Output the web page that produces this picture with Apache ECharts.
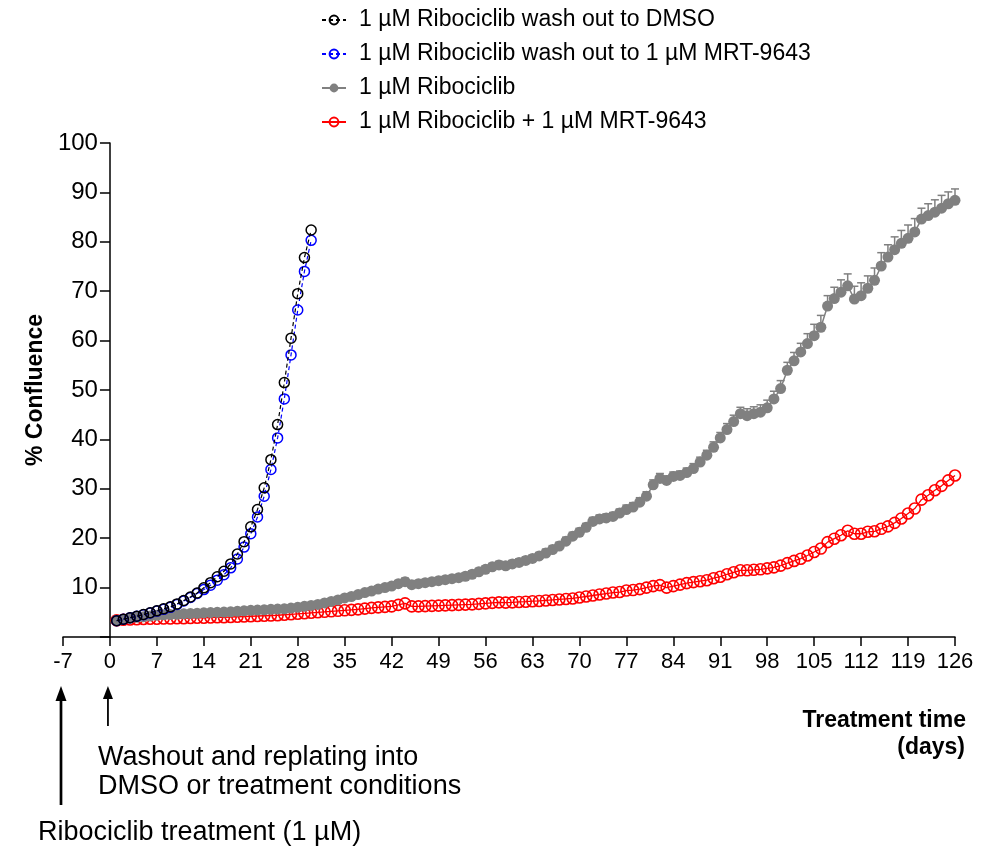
<!DOCTYPE html>
<html>
<head>
<meta charset="utf-8">
<title>Confluence</title>
<script src="https://cdn.jsdelivr.net/npm/echarts@6/dist/echarts.min.js"></script>
<style>
  html, body { margin: 0; padding: 0; background: #fff; }
  #chart { width: 999px; height: 848px; }
</style>
</head>
<body>
<div id="chart"></div>
<script>
// 数据：每天一个点，从第 1 天开始
const firstDay = 1
const xTicks = { min: -7, max: 126, step: 7 }
const yTicks = { min: 0, max: 100, step: 10 }

const seriesNames = [
  '1 µM Ribociclib wash out to DMSO',
  '1 µM Ribociclib wash out to 1 µM MRT-9643',
  '1 µM Ribociclib',
  '1 µM Ribociclib + 1 µM MRT-9643'
]

// wash out to DMSO (day 1-30)
const washDmso = [
  3.3, 3.6, 3.9, 4.2, 4.55, 4.9, 5.3, 5.7, 6.1, 6.7,
  7.4, 8.1, 8.9, 9.95, 11.0, 12.2, 13.3, 14.8, 16.8, 19.3,
  22.3, 25.8, 30.2, 35.9, 43.0, 51.5, 60.5, 69.5, 76.8, 82.4
]

// wash out to MRT-9643 (day 1-30)
const washMrt = [
  3.3, 3.6, 3.9, 4.2, 4.5, 4.85, 5.25, 5.6, 6.0, 6.6,
  7.3, 8.0, 8.8, 9.6, 10.5, 11.5, 12.6, 14.0, 15.8, 18.2,
  20.9, 24.3, 28.5, 33.9, 40.3, 48.2, 57.1, 66.2, 74.0, 80.3
]

// Ribociclib (day 1-126)
const ribo = [
  3.4, 3.6, 3.8, 4.0, 4.1, 4.25, 4.4, 4.5, 4.55, 4.6,
  4.7, 4.75, 4.8, 4.9, 4.95, 5.0, 5.05, 5.1, 5.2, 5.3,
  5.4, 5.45, 5.5, 5.6, 5.65, 5.7, 5.85, 6.0, 6.2, 6.4,
  6.6, 6.9, 7.2, 7.5, 7.9, 8.2, 8.6, 9.0, 9.3, 9.7,
  10.0, 10.3, 10.8, 11.2, 10.6, 10.8, 11.0, 11.2, 11.4, 11.6,
  11.8, 12.0, 12.3, 12.7, 13.2, 13.7, 14.2, 14.6, 14.4, 14.8,
  15.1, 15.5, 15.9, 16.4, 17.0, 17.7, 18.4, 19.4, 20.4, 21.2,
  22.2, 23.4, 23.9, 24.1, 24.4, 25.1, 25.8, 26.3, 27.3, 28.5,
  30.8, 32.1, 31.7, 32.5, 32.7, 33.3, 34.1, 35.4, 36.8, 38.4,
  40.3, 42.0, 43.6, 45.2, 44.8, 45.2, 45.5, 46.4, 48.2, 50.3,
  54.0, 55.9, 57.7, 59.4, 61.0, 62.7, 67.0, 68.5, 69.8, 71.1,
  68.4, 69.1, 70.6, 72.2, 75.1, 76.9, 78.4, 79.7, 80.7, 82.0,
  84.6, 85.3, 86.0, 86.8, 87.7, 88.4
]

// Ribociclib 误差线 (只画上方)
const riboErr = [
  0.2, 0.2, 0.2, 0.2, 0.3, 0.3, 0.3, 0.3, 0.3, 0.3,
  0.3, 0.3, 0.3, 0.3, 0.3, 0.3, 0.3, 0.3, 0.4, 0.4,
  0.4, 0.4, 0.4, 0.4, 0.4, 0.4, 0.4, 0.4, 0.5, 0.5,
  0.5, 0.5, 0.5, 0.5, 0.5, 0.5, 0.5, 0.5, 0.6, 0.6,
  0.6, 0.6, 0.6, 0.7, 0.6, 0.6, 0.6, 0.6, 0.6, 0.6,
  0.6, 0.6, 0.6, 0.7, 0.7, 0.7, 0.7, 0.7, 0.7, 0.7,
  0.7, 0.7, 0.7, 0.7, 0.8, 0.8, 0.8, 0.8, 0.8, 0.8,
  0.8, 0.8, 0.8, 0.8, 0.8, 0.8, 0.9, 0.9, 0.9, 0.9,
  1.0, 1.0, 0.9, 0.9, 0.9, 0.9, 1.0, 1.0, 1.0, 1.1,
  1.1, 1.2, 1.3, 1.3, 1.4, 1.4, 1.5, 1.55, 1.55, 1.6,
  1.6, 1.7, 1.75, 2.0, 2.3, 2.4, 2.1, 2.3, 2.5, 2.4,
  2.6, 2.6, 2.5, 2.5, 2.7, 2.5, 2.6, 2.6, 2.7, 2.7,
  2.2, 2.4, 2.5, 2.6, 2.4, 2.3
]

// Ribociclib + MRT-9643 (day 1-126)
const riboMrt = [
  3.4, 3.5, 3.55, 3.6, 3.65, 3.7, 3.7, 3.75, 3.75, 3.8,
  3.8, 3.85, 3.9, 3.9, 3.95, 4.0, 4.0, 4.05, 4.1, 4.15,
  4.2, 4.25, 4.3, 4.35, 4.4, 4.5, 4.6, 4.7, 4.8, 4.9,
  5.0, 5.1, 5.2, 5.3, 5.4, 5.5, 5.6, 5.75, 5.9, 6.0,
  6.1, 6.2, 6.5, 6.8, 6.2, 6.2, 6.25, 6.3, 6.35, 6.4,
  6.45, 6.5, 6.55, 6.6, 6.7, 6.8, 6.9, 7.0, 6.95, 7.0,
  7.1, 7.15, 7.25, 7.3, 7.4, 7.5, 7.6, 7.7, 7.8, 8.0,
  8.2, 8.4, 8.6, 8.8, 9.0, 9.1, 9.4, 9.5, 9.7, 10.0,
  10.3, 10.5, 10.0, 10.3, 10.6, 10.9, 11.1, 11.3, 11.5, 11.9,
  12.2, 12.7, 13.1, 13.5, 13.5, 13.6, 13.7, 13.9, 14.1, 14.45,
  14.95, 15.4, 15.85, 16.5, 17.2, 17.9, 19.2, 19.9, 20.6, 21.5,
  20.9, 20.9, 21.3, 21.4, 21.9, 22.4, 23.1, 24.0, 25.0, 26.0,
  27.8, 28.7, 29.7, 30.6, 31.7, 32.7
]

const font = 'Liberation Sans, Arial, Helvetica, sans-serif'
const gray = '#808080'

const gridLeft = 63
const gridRight = 44
// y 轴画在 x = 0 处：从网格左边往里挪 7 天的宽度
const yAxisShift = (999 - gridLeft - gridRight) / (xTicks.max - xTicks.min) * (0 - xTicks.min)

function toPoints(vals) {
  return vals.map((v, i) => [firstDay + i, v])
}

const chart = echarts.init(document.getElementById('chart'))

const option = {
  backgroundColor: '#fff',
  animation: false,
  textStyle: { fontFamily: font, color: '#000' },
  grid: {
    left: gridLeft,
    right: gridRight,
    top: 143,
    bottom: 211,
    containLabel: false,
    outerBoundsMode: 'none'
  },
  legend: {
    data: seriesNames,
    orient: 'vertical',
    left: 321,
    top: 8,
    padding: 0,
    itemGap: 10,
    itemWidth: 24,
    itemHeight: 11,
    textStyle: {
      fontFamily: font,
      fontSize: 23,
      lineHeight: 24,
      color: '#000',
      padding: [0, 0, 0, 8]
    }
  },
  xAxis: {
    type: 'value',
    min: xTicks.min,
    max: xTicks.max,
    interval: xTicks.step,
    splitLine: { show: false },
    axisLine: { onZero: false, lineStyle: { color: '#000', width: 1.5 } },
    axisTick: { length: 9, lineStyle: { color: '#000', width: 1.5 } },
    axisLabel: { fontSize: 22, color: '#000', margin: 14, fontFamily: font }
  },
  yAxis: {
    type: 'value',
    min: yTicks.min,
    max: yTicks.max,
    interval: yTicks.step,
    offset: -yAxisShift,
    name: '% Confluence',
    nameLocation: 'middle',
    nameGap: 63,
    nameTextStyle: { fontSize: 23, fontWeight: 'bold', color: '#000', fontFamily: font },
    splitLine: { show: false },
    axisLine: { show: true, onZero: false, lineStyle: { color: '#000', width: 1.5 } },
    axisTick: { length: 10, lineStyle: { color: '#000', width: 1.5 } },
    axisLabel: {
      fontSize: 24,
      color: '#000',
      margin: 12,
      fontFamily: font,
      formatter: function(v) {
        return v === 0 ? '' : String(v)
      }
    }
  },
  series: [
    {
      name: seriesNames[3],
      type: 'line',
      data: toPoints(riboMrt),
      symbol: 'circle',
      symbolSize: 11,
      lineStyle: { color: '#ff0000', width: 1.3 },
      itemStyle: { color: 'rgba(255,255,255,0)', borderColor: '#ff0000', borderWidth: 1.6 },
      z: 2
    },
    {
      // 误差线
      name: 'riboErr',
      type: 'custom',
      data: riboErr.map((e, i) => [firstDay + i, ribo[i], e]),
      encode: { x: 0, y: 1 },
      renderItem: function(params, api) {
        const x = api.value(0)
        const y = api.value(1)
        const e = api.value(2)
        const p0 = api.coord([x, y])
        const p1 = api.coord([x, y + e])
        const style = { stroke: gray, lineWidth: 1.5 }
        return {
          type: 'group',
          children: [
            { type: 'line', shape: { x1: p0[0], y1: p0[1], x2: p1[0], y2: p1[1] }, style: style },
            { type: 'line', shape: { x1: p1[0] - 4, y1: p1[1], x2: p1[0] + 4, y2: p1[1] }, style: style }
          ]
        }
      },
      z: 3
    },
    {
      name: seriesNames[2],
      type: 'line',
      data: toPoints(ribo),
      symbol: 'circle',
      symbolSize: 11,
      lineStyle: { color: gray, width: 1.5 },
      itemStyle: { color: gray },
      z: 4
    },
    {
      name: seriesNames[1],
      type: 'line',
      data: toPoints(washMrt),
      symbol: 'circle',
      symbolSize: 10,
      lineStyle: { color: '#0000ff', width: 1.2, type: [4, 3] },
      itemStyle: { color: 'rgba(255,255,255,0)', borderColor: '#0000ff', borderWidth: 1.5 },
      z: 5
    },
    {
      name: seriesNames[0],
      type: 'line',
      data: toPoints(washDmso),
      symbol: 'circle',
      symbolSize: 10,
      lineStyle: { color: '#000', width: 1.2, type: [4, 3] },
      itemStyle: { color: 'rgba(255,255,255,0)', borderColor: '#000', borderWidth: 1.5 },
      z: 6
    }
  ]
}

chart.setOption(option)

// 注释：箭头和文字，x 位置跟着坐标轴走
const xStart = chart.convertToPixel({ gridIndex: 0 }, [-7, 0])[0] - 2
const xWash = chart.convertToPixel({ gridIndex: 0 }, [0, 0])[0] - 2

function arrow(x, yTop, yBottom, w, headW, headH) {
  return {
    type: 'group',
    children: [
      { type: 'line', shape: { x1: x, y1: yTop + headH - 1, x2: x, y2: yBottom }, style: { stroke: '#000', lineWidth: w } },
      {
        type: 'polygon',
        shape: { points: [[x, yTop], [x - headW / 2, yTop + headH], [x + headW / 2, yTop + headH]] },
        style: { fill: '#000' }
      }
    ]
  }
}

const noteStyle = { fontFamily: font, fontSize: 27, fill: '#000', verticalAlign: 'middle' }
const axisNameStyle = { fontFamily: font, fontSize: 23, fontWeight: 'bold', fill: '#000', align: 'right', verticalAlign: 'middle' }

chart.setOption({
  graphic: [
    arrow(xStart, 686, 805, 2.7, 11, 15),
    arrow(xWash, 686, 726, 1.8, 10, 13),
    { type: 'text', x: 98, y: 758, style: Object.assign({ text: 'Washout and replating into' }, noteStyle) },
    { type: 'text', x: 98, y: 787, style: Object.assign({ text: 'DMSO or treatment conditions' }, noteStyle) },
    { type: 'text', x: 38, y: 833, style: Object.assign({ text: 'Ribociclib treatment (1 µM)' }, noteStyle) },
    { type: 'text', x: 966, y: 721, style: Object.assign({ text: 'Treatment time' }, axisNameStyle) },
    { type: 'text', x: 965, y: 748, style: Object.assign({ text: '(days)' }, axisNameStyle) }
  ]
})
</script>
</body>
</html>
